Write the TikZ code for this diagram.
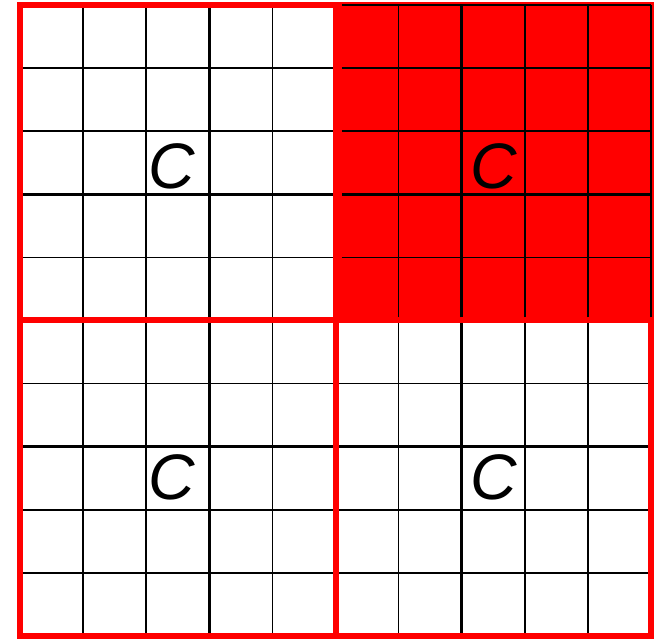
\documentclass[tikz,border=0pt]{standalone}
\usepackage{fontspec}
\setmainfont{Liberation Sans}
\begin{document}
\begin{tikzpicture}[
  thin grid/.style={black, line width=0.68pt},
  thick grid/.style={black, line width=1.25pt},
  redline/.style={red, line width=2.7pt},
  label/.style={inner sep=0pt, font=\fontsize{29}{30}\selectfont\itshape}
]
\useasboundingbox (-0.317,-0.048) rectangle (10.206,10.079);
% full grid
\foreach \i in {1,2,4,5,6,8,9} {
  \draw[thin grid] (\i,0) -- (\i,10);
  \draw[thin grid] (0,\i) -- (10,\i);
}
\foreach \i in {3,7} {
  \draw[thick grid] (\i,0) -- (\i,10);
  \draw[thick grid] (0,\i) -- (10,\i);
}
% red quadrant lines
\draw[redline] (0,0) rectangle (10,10);
\draw[redline] (5,0) -- (5,10);
\draw[redline] (0,5) -- (10,5);
% filled top-right quadrant
\fill[red] (4.96,4.96) rectangle (10.05,10.05);
\foreach \i in {6,8,9,10} {
  \draw[thin grid] (\i,5.05) -- (\i,10);
  \draw[thin grid] (5.1,\i) -- (10,\i);
}
\draw[thick grid] (7,5.05) -- (7,10);
\draw[thick grid] (5.1,7) -- (10,7);
% labels
\node[label] (c1) at (2.41,7.45) {C};
\node[label] (c2) at (7.51,7.45) {C};
\node[label] (c3) at (2.41,2.52) {C};
\node[label] (c4) at (7.51,2.52) {C};
\end{tikzpicture}
\end{document}
